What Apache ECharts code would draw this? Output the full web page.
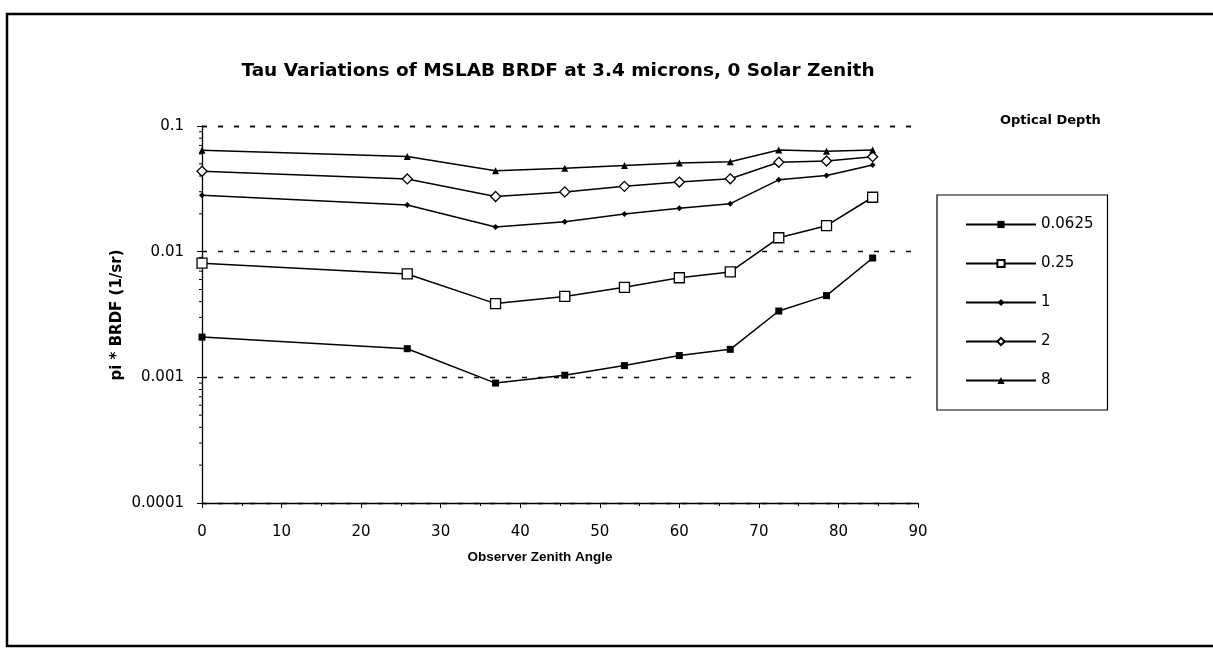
<!DOCTYPE html>
<html>
<head>
<meta charset="utf-8">
<script src="https://cdn.jsdelivr.net/npm/echarts@6/dist/echarts.min.js"></script>
<style>
html,body{margin:0;padding:0;background:#fff;}
#c{width:1213px;height:652px;}
</style>
</head>
<body>
<div id="c"></div>
<script>
// Observer zenith angles (degrees)
var angles = [0, 25.8, 36.9, 45.6, 53.1, 60, 66.4, 72.5, 78.5, 84.3];
// pi * BRDF (1/sr) per optical depth
var tau0625 = [0.00209, 0.00169, 0.00090, 0.00104, 0.00124, 0.00149, 0.00167, 0.00337, 0.00447, 0.0089];
var tau025  = [0.0081, 0.00665, 0.00386, 0.0044, 0.0052, 0.0062, 0.0069, 0.0129, 0.0161, 0.0271];
var tau1    = [0.0281, 0.0235, 0.0157, 0.0173, 0.0199, 0.0222, 0.0241, 0.0373, 0.0404, 0.049];
var tau2    = [0.0436, 0.0379, 0.0275, 0.0299, 0.0331, 0.0358, 0.0380, 0.0514, 0.0526, 0.057];
var tau8    = [0.0642, 0.0573, 0.0441, 0.0462, 0.0485, 0.0508, 0.0520, 0.0643, 0.0630, 0.0643];
var seriesNames = ['0.0625', '0.25', '1', '2', '8'];
var yTickLabels = ['0.0001', '0.001', '0.01', '0.1'];
var yDecades = [0.0001, 0.001, 0.01];
var minorMultipliers = [2, 3, 4, 5, 6, 7, 8, 9];

function pairs(ys){ return angles.map(function(a,i){ return [a, ys[i]]; }); }

var FONT = '"Liberation Sans", Arial, sans-serif';
var DFONT = '"DejaVu Sans", sans-serif';
var chart = echarts.init(document.getElementById('c'), null, {renderer:'canvas'});

function mk(name, ys, symbol, size, filled){
  return {
    name: name, type: 'line', data: pairs(ys),
    symbol: symbol, symbolSize: size, showAllSymbol: true,
    lineStyle: {color:'#000', width:1.5},
    itemStyle: {color: filled ? '#000' : '#fff', borderColor:'#000', borderWidth: filled ? 0 : 1.3},
    emphasis: {disabled:true},
    animation: false, z: 3
  };
}

// log-axis minor tick values (2..9 x each decade)
var minorTicks = [];
yDecades.forEach(function(d){ minorMultipliers.forEach(function(m){ minorTicks.push([0, d*m]); }); });

var option = {
  backgroundColor: '#fff',
  animation: false,
  title: {
    text: 'Tau Variations of MSLAB BRDF at 3.4 microns, 0 Solar Zenith',
    left: 553, top: 57, textAlign: 'center',
    textStyle: {fontFamily: DFONT, fontSize: 18.5, fontWeight: 'bold', color:'#000'}
  },
  grid: {left: 202, top: 126, right: 295, bottom: 149},
  xAxis: {
    type: 'value', min: 0, max: 90, interval: 10,
    axisLine: {show:true, lineStyle:{color:'#000', width:1.3}},
    axisTick: {show:true, length:5, lineStyle:{color:'#000'}},
    minorTick: {show:true, splitNumber:2, length:3, lineStyle:{color:'#000'}},
    axisLabel: {color:'#000', fontFamily: DFONT, fontSize: 15, margin: 22},
    splitLine: {show:false}
  },
  yAxis: {
    type: 'log', logBase: 10, min: 0.0001, max: 0.1, splitNumber: 3,
    axisLine: {show:true, lineStyle:{color:'#000', width:1.3}},
    axisTick: {show:true, length:5, lineStyle:{color:'#000'}},
    axisLabel: {color:'#000', fontFamily: DFONT, fontSize: 15, margin: 18,
      formatter: function(v){ var e = Math.round(Math.log10(v)); return yTickLabels[e+4]; }},
    splitLine: {show:true, lineStyle:{color:'#000', type:[5,11], width:1.4}}
  },
  legend: {
    orient: 'vertical', left: 937, top: 195,
    data: seriesNames,
    itemWidth: 70, itemHeight: 9, itemGap: 24,
    padding: [22, 14, 22, 28],
    borderColor: '#000', borderWidth: 1.2,
    textStyle: {fontFamily: DFONT, fontSize: 15, color:'#000'},
    selectedMode: false
  },
  graphic: [
    {type:'rect', shape:{x:7, y:14, width:1220, height:632}, style:{fill:'none', stroke:'#000', lineWidth:2.5}, silent:true},
    {type:'text', left: 1000, top: 114, style:{text:'Optical Depth', font:'bold 13px ' + DFONT, fill:'#000'}},
    {type:'text', x: 540, y: 557, style:{text:'Observer Zenith Angle', font:'bold 13.5px ' + FONT, fill:'#000', textAlign:'center', textVerticalAlign:'middle'}},
    {type:'text', x: 117, y: 315, rotation: Math.PI/2, style:{text:'pi * BRDF (1/sr)', font:'bold 15px ' + DFONT, fill:'#000', textAlign:'center', textVerticalAlign:'middle'}}
  ],
  series: [
    mk('0.0625', tau0625, 'rect', 7, true),
    mk('0.25', tau025, 'rect', 10, false),
    mk('1', tau1, 'diamond', 6, true),
    mk('2', tau2, 'diamond', 10, false),
    mk('8', tau8, 'triangle', 7, true),
    {
      name: 'minorTicks', type: 'custom', data: minorTicks, silent: true, z: 2,
      renderItem: function(params, api){
        var p = api.coord([api.value(0), api.value(1)]);
        return {type:'line', shape:{x1:p[0]-3, y1:p[1], x2:p[0], y2:p[1]}, style:{stroke:'#000', lineWidth:1}};
      }
    }
  ]
};
chart.setOption(option);
</script>
</body>
</html>
